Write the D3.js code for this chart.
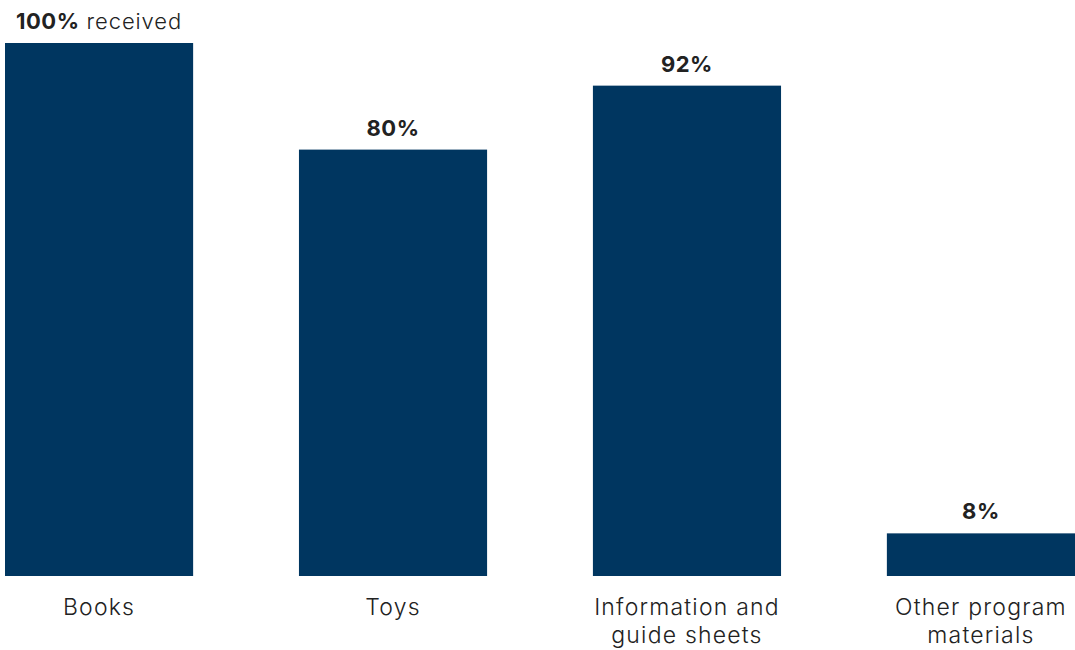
<!DOCTYPE html>
<html lang="en">
<head>
<meta charset="UTF-8">
<title>Materials received</title>
<script src="https://d3js.org/d3.v7.min.js"></script>
<style>
  body { margin: 0; background: #fff; }
  svg text { font-family: Inter, "Noto Sans", sans-serif; fill: #222; }
</style>
</head>
<body>
<svg id="chart"></svg>
<script>
// chart data
const categories = ["Books", "Toys", "Information and guide sheets", "Other program materials"];
const labelLines = [["Books"], ["Toys"], ["Information and", "guide sheets"], ["Other program", "materials"]];
const values = [100, 80, 92, 8];
const valueSuffix = ["received", "", "", ""];

const width = 1075, height = 650;
const baseY = 576, topY = 43;

const svg = d3.select('#chart')
  .attr('width', width)
  .attr('height', height);

const x = d3.scaleBand()
  .domain(categories)
  .range([5, 1075])
  .paddingInner(0.36)
  .paddingOuter(0);

const y = d3.scaleLinear()
  .domain([0, 100])
  .range([baseY, topY]);

svg.append('g')
  .selectAll('rect')
  .data(categories)
  .enter().append('rect')
  .attr('x', d => x(d))
  .attr('y', (d, i) => y(values[i]))
  .attr('width', x.bandwidth())
  .attr('height', (d, i) => baseY - y(values[i]))
  .attr('fill', '#003660');

// value labels above bars
const vl = svg.append('g')
  .selectAll('text')
  .data(categories)
  .enter().append('text')
  .attr('x', d => x(d) + x.bandwidth() / 2)
  .attr('y', (d, i) => y(values[i]) - 14)
  .attr('text-anchor', 'middle')
  .style('font-size', '22px')
  .style('letter-spacing', '0.5px');
vl.append('tspan')
  .style('font-weight', 'bold')
  .text((d, i) => values[i] + '%');
vl.append('tspan')
  .style('font-weight', '300')
  .style('letter-spacing', '0.9px')
  .text((d, i) => valueSuffix[i] ? ' ' + valueSuffix[i] : '');

// category labels
const cl = svg.append('g')
  .selectAll('g')
  .data(categories)
  .enter().append('g');
cl.selectAll('text')
  .data((d, i) => labelLines[i].map(t => ({ cat: d, t: t })))
  .enter().append('text')
  .attr('x', d => x(d.cat) + x.bandwidth() / 2)
  .attr('y', (d, j) => 615 + j * 28)
  .attr('text-anchor', 'middle')
  .style('font-size', '23px')
  .style('font-weight', '300')
  .style('letter-spacing', '1.2px')
  .text(d => d.t);
</script>
</body>
</html>
